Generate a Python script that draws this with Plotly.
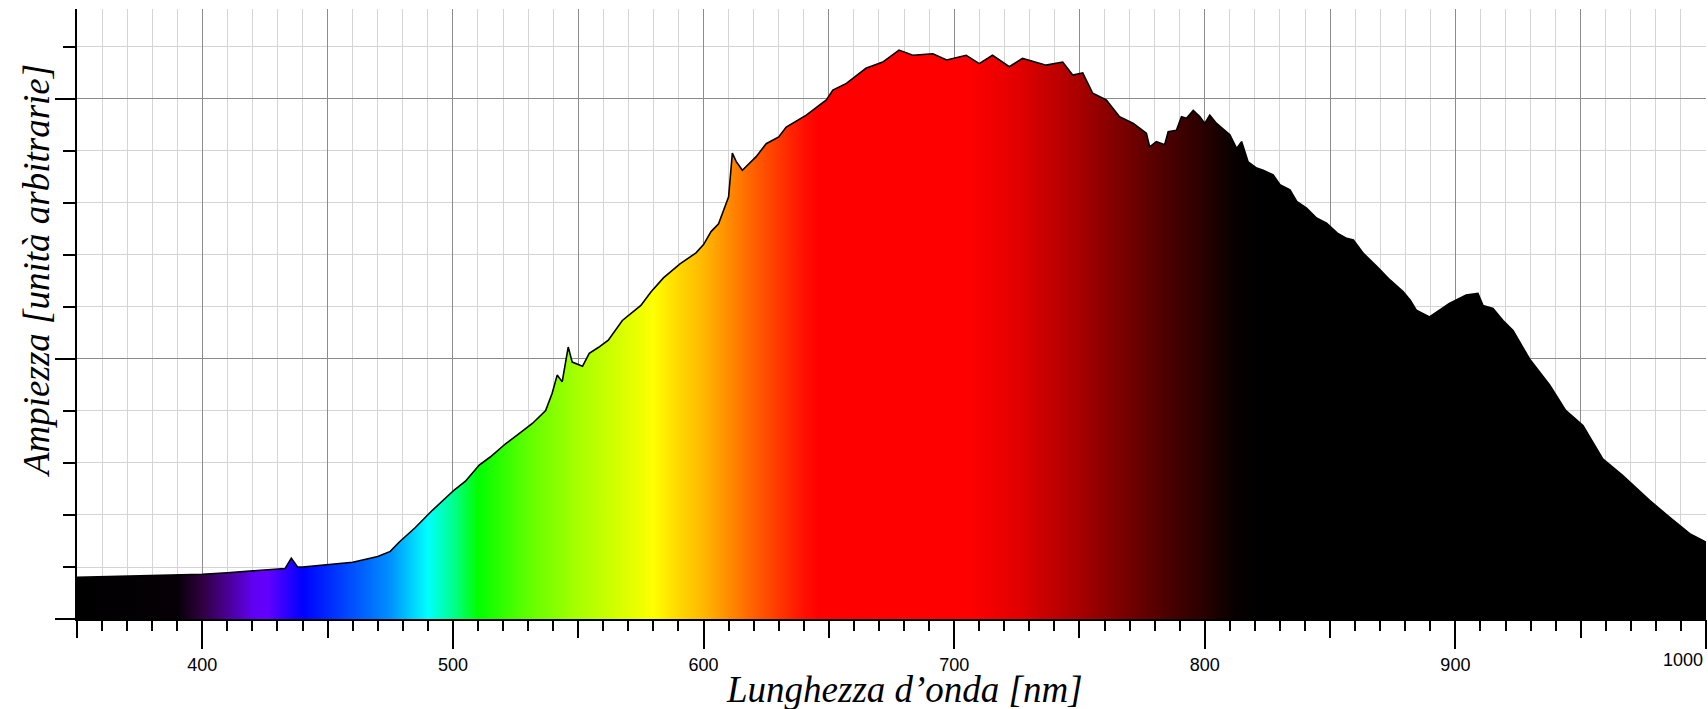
import plotly.graph_objects as go

# Wavelength (nm) and amplitude (arbitrary units)
wavelength = [350, 360, 370, 380, 390, 400, 410, 420, 430, 433, 435.5, 438, 440, 450, 460, 470, 475,
              478.6, 485, 491.8, 495, 500.5, 505, 510.5, 515, 521, 526, 531.7, 537, 539.6, 541.6,
              543.6, 546, 547.6, 551.7, 554.4, 558, 562, 567.6, 575, 579, 584, 590.6, 597, 600, 603,
              606, 609, 610, 611.5, 613, 615.5, 621, 625, 630, 633, 641, 649, 651.6, 657, 664.8,
              671.5, 678, 683.5, 691.5, 697, 704.8, 710, 715.3, 722, 727.3, 736.7, 743.3, 747.3,
              751.3, 755.3, 760.7, 766, 771.5, 776.7, 778, 780.7, 784, 785.4, 788.7, 790.7, 792.7,
              795.4, 798, 800, 802, 804.7, 806.7, 810, 812.7, 814.7, 817.3, 820.7, 823.3, 827.3, 830,
              834, 836.7, 840.6, 844.6, 848.6, 852.9, 856.6, 859.3, 863.3, 868.6, 873.9, 879.2, 882,
              884.4, 889.7, 897.6, 904.3, 909, 911, 915, 919, 923, 929.6, 937.6, 944, 950.9, 958.8,
              966.7, 977.5, 985.4, 993.5, 1000]
amplitude = [0.80, 0.81, 0.82, 0.83, 0.85, 0.86, 0.89, 0.92, 0.96, 0.97, 1.17, 1.00, 1.00, 1.05, 1.09, 1.20, 1.30,
             1.48, 1.76, 2.09, 2.24, 2.48, 2.65, 2.96, 3.12, 3.37, 3.55, 3.76, 4.01, 4.34, 4.69,
             4.56, 5.23, 4.94, 4.86, 5.11, 5.22, 5.36, 5.74, 6.03, 6.29, 6.56, 6.83, 7.04, 7.20, 7.45,
             7.60, 8.00, 8.12, 8.96, 8.80, 8.63, 8.89, 9.14, 9.27, 9.46, 9.69, 9.98, 10.17, 10.30, 10.59,
             10.71, 10.94, 10.84, 10.87, 10.75, 10.84, 10.68, 10.84, 10.62, 10.78, 10.65, 10.71, 10.46,
             10.50, 10.11, 9.98, 9.66, 9.53, 9.34, 9.08, 9.18, 9.12, 9.37, 9.40, 9.66, 9.63,
             9.78, 9.66, 9.53, 9.69, 9.53, 9.44, 9.31, 9.05, 9.18, 8.79, 8.67, 8.63, 8.54, 8.35,
             8.25, 8.03, 7.90, 7.71, 7.61, 7.42, 7.32, 7.29, 7.03, 6.78, 6.52, 6.29, 6.13,
             5.94, 5.81, 6.07, 6.23, 6.26, 6.03, 5.97, 5.74, 5.55, 5.00, 4.50, 4.01, 3.72, 3.08,
             2.76, 2.28, 1.96, 1.64, 1.48]

# Spectrum colours (wavelength nm -> colour)
color_nm = [350, 390, 400, 410, 420, 426, 440, 460, 475, 490, 500, 510, 530, 550, 570, 580, 590, 600,
            620, 640, 646, 705, 725, 750, 780, 800, 812, 822, 1000]
color_hex = ["#000000", "#060006", "#300040", "#4a0095", "#6000f0", "#6400ff", "#0000ff", "#0050ff",
             "#0090ff", "#00ffff", "#00ff90", "#00ff00", "#60ff00", "#a8ff00", "#e0ff00", "#ffff00",
             "#ffd800", "#ffb800", "#ff6000", "#ff1000", "#ff0000", "#ff0000", "#e40000", "#a80000",
             "#580000", "#280000", "#080000", "#000000", "#000000"]

x_major_labels = [400, 500, 600, 700, 800, 900, 1000]

x_min, x_max = 350, 1000
y_max = 11.73

colorscale = [[(n - x_min) / (x_max - x_min), c] for n, c in zip(color_nm, color_hex)]

fig = go.Figure()
fig.add_trace(go.Scatter(
    x=wavelength, y=amplitude, mode="lines",
    line=dict(color="black", width=1.6),
    fill="tozeroy",
    fillgradient=dict(type="horizontal", colorscale=colorscale, start=x_min, stop=x_max),
    showlegend=False, hoverinfo="skip",
))
fig.add_trace(go.Scatter(
    x=wavelength, y=amplitude, mode="none", xaxis="x2",
    showlegend=False, hoverinfo="skip",
))

major_grid = "#8c8c8c"
minor_grid = "#d4d4d4"
tickfont = dict(family="Liberation Sans, Arial, sans-serif", size=18, color="black")
title_font = dict(family="Liberation Serif, Times New Roman, serif", size=37, color="black", style="italic")

# last label (at the right edge) is right-aligned to stay inside the page, as in the reference
tick_text = [str(v) for v in x_major_labels[:-1]] + [""]

fig.update_layout(
    width=1708, height=709,
    margin=dict(l=77, r=2, t=9, b=90, pad=0),
    paper_bgcolor="white", plot_bgcolor="white",
    xaxis=dict(
        range=[x_min, x_max], tick0=350, dtick=50,
        ticks="outside", ticklen=17, tickwidth=1.5, tickcolor="black",
        showticklabels=False,
        showgrid=True, gridcolor=major_grid, gridwidth=1.3,
        minor=dict(dtick=10, tick0=350, ticks="outside", ticklen=10, tickwidth=1.5, tickcolor="black",
                   showgrid=True, gridcolor=minor_grid, gridwidth=1.3),
        showline=True, linecolor="black", linewidth=2,
        zeroline=False,
    ),
    xaxis2=dict(
        overlaying="x", matches="x", anchor="y", side="bottom",
        range=[x_min, x_max],
        tickmode="array", tickvals=x_major_labels, ticktext=tick_text,
        ticks="outside", ticklen=29, tickwidth=1.5, tickcolor="black",
        tickfont=tickfont, showgrid=False, showline=False, zeroline=False,
    ),
    yaxis=dict(
        range=[0, y_max], tick0=0, dtick=5,
        ticks="outside", ticklen=20, tickwidth=1.5, tickcolor="black",
        showticklabels=False,
        showgrid=True, gridcolor=major_grid, gridwidth=1.3,
        minor=dict(dtick=1, tick0=0, ticks="outside", ticklen=12, tickwidth=1.5, tickcolor="black",
                   showgrid=True, gridcolor=minor_grid, gridwidth=1.3),
        showline=True, linecolor="black", linewidth=2,
        zeroline=False,
    ),
    annotations=[
        dict(text=str(x_major_labels[-1]), xref="x", yref="paper",
             x=x_major_labels[-1], y=-(660 - 619) / 610, xanchor="right", yanchor="middle",
             xshift=-1, showarrow=False, font=tickfont),
        dict(text="Lunghezza d’onda [nm]", xref="paper", yref="paper",
             x=(904 - 77) / 1629, y=-(690 - 619) / 610, xanchor="center", yanchor="middle",
             showarrow=False, font=title_font),
        dict(text="Ampiezza [unità arbitrarie]", xref="paper", yref="paper",
             x=(36 - 77) / 1629, y=(619 - 271) / 610, xanchor="center", yanchor="middle",
             textangle=-90, showarrow=False, font=title_font),
    ],
)

fig.write_html(
    "out.html",
    config={"displayModeBar": False},
    post_script="document.body.style.margin='0';document.documentElement.style.overflow='hidden';document.body.style.overflow='hidden';",
)
